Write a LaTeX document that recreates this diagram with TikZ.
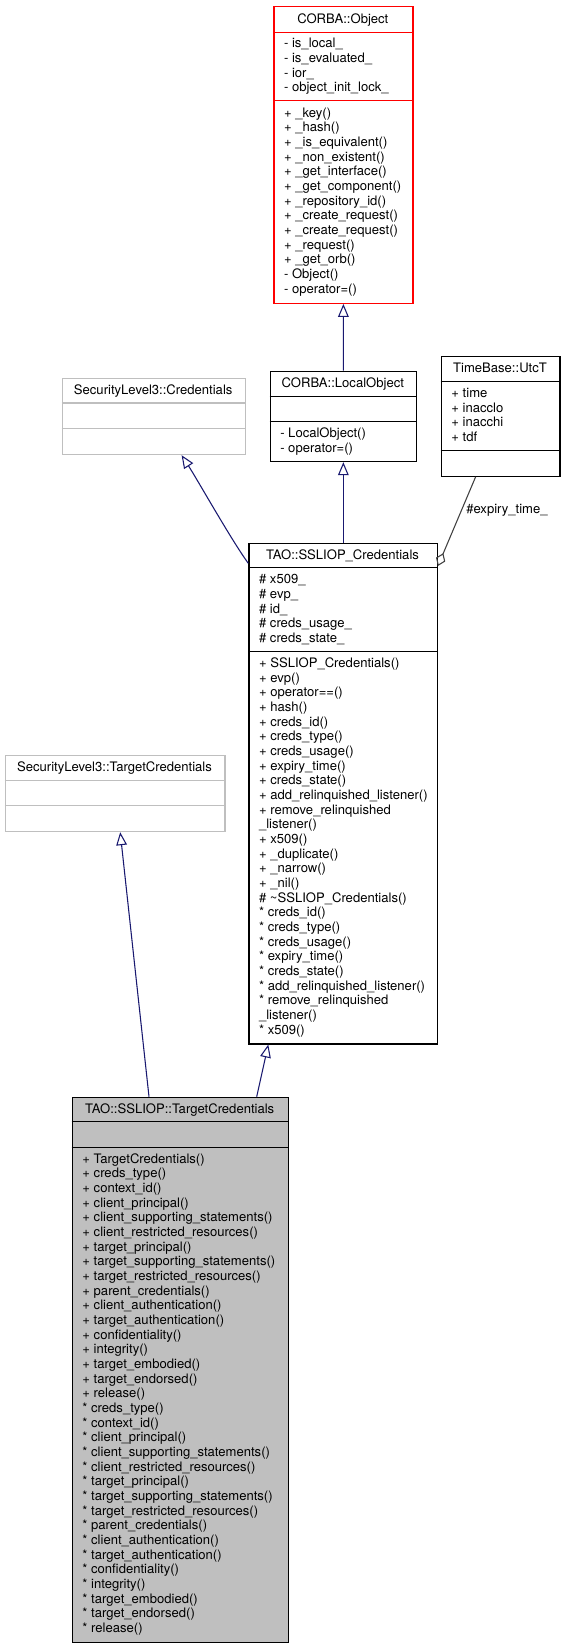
\documentclass[tikz,border=0pt]{standalone}
\usepackage{fontspec}
\setmainfont{TeX Gyre Heros}
\usetikzlibrary{arrows.meta,calc}
\definecolor{edgeblue}{HTML}{191970}
\definecolor{boxgray}{HTML}{BFBFBF}
\definecolor{aggray}{HTML}{404040}
\definecolor{boxred}{HTML}{FF0000}
% name, style, x1, y1, x2, y2, sep1, sep2, title
\newcommand\UMLclass[9]{%
  \pgfmathsetmacro\UMLbw{(#5-#3)*0.75}%
  \pgfmathsetmacro\UMLbh{(#6-#4)*0.75}%
  \node[#2, minimum width=\UMLbw pt, minimum height=\UMLbh pt, anchor=north west] (#1) at (#3,#4) {};
  \draw[#2] (#3,#7) -- (#5,#7);
  \draw[#2] (#3,#8) -- (#5,#8);
  \node[ttl] (#1t) at ({(#3+#5)/2},{(#4+#7)/2+4}) {#9};
}
% name, x1, top, bottom, text
\newcommand\UMLmembers[5]{%
  \node[txt] (#1) at ({#2+10.5},{(#3+#4)/2+0.5}) {\strut#5\strut};
}
\begin{document}
\begin{tikzpicture}[x=0.75pt,y=-0.75pt,
  txt/.style={inner sep=0pt, font=\fontsize{9.8}{11}\selectfont, align=left, anchor=west},
  ttl/.style={inner sep=0pt, font=\fontsize{9.8}{11}\selectfont, anchor=base},
  lbl/.style={inner sep=0pt, font=\fontsize{9.8}{11}\selectfont, anchor=west},
  blackbox/.style={draw=black, line width=0.9pt, inner sep=0pt},
  redbox/.style={draw=boxred, line width=0.9pt, inner sep=0pt},
  graybox/.style={draw=boxgray, line width=0.9pt, inner sep=0pt},
  filledbox/.style={draw=black, fill=boxgray, line width=0.9pt, inner sep=0pt},
  inh/.style={draw=edgeblue, line width=0.8pt, -{Triangle[open, length=9.75pt, width=8pt]}},
  agg/.style={draw=aggray, line width=0.8pt, -{Diamond[open, length=10.5pt, width=7.5pt]}}
]
\useasboundingbox (0,0) rectangle (564,1648);
\fill[white] (0,0) rectangle (564,1648);

% CORBA::Object
\UMLclass{obj}{redbox}{273.3}{6}{412.3}{302.7}{32.3}{100.7}{CORBA::Object}
\UMLmembers{obja}{273.3}{32.3}{100.7}{- is\_local\_\\- is\_evaluated\_\\- ior\_\\- object\_init\_lock\_}
\UMLmembers{objm}{273.3}{100.7}{302.7}{+ \_key()\\+ \_hash()\\+ \_is\_equivalent()\\+ \_non\_existent()\\+ \_get\_interface()\\+ \_get\_component()\\+ \_repository\_id()\\+ \_create\_request()\\+ \_create\_request()\\+ \_request()\\+ \_get\_orb()\\- Object()\\- operator=()}

% CORBA::LocalObject
\UMLclass{lo}{blackbox}{269.5}{370.7}{416}{461}{396.2}{421.5}{CORBA::LocalObject}
\UMLmembers{lom}{269.5}{421.5}{461}{- LocalObject()\\- operator=()}

% TimeBase::UtcT
\UMLclass{utct}{blackbox}{440.7}{356}{559.3}{475.7}{381.7}{450.7}{TimeBase::UtcT}
\UMLmembers{utcta}{440.7}{381.7}{450.7}{+ time\\+ inacclo\\+ inacchi\\+ tdf}

% SecurityLevel3::Credentials
\UMLclass{cred}{graybox}{61.7}{377.7}{244.7}{454}{403}{428.7}{SecurityLevel3::Credentials}

% TAO::SSLIOP_Credentials
\UMLclass{ssl}{blackbox}{248.3}{542.7}{436.7}{1043.3}{567.7}{651.7}{TAO::SSLIOP\_Credentials}
\UMLmembers{ssla}{248.3}{567.7}{651.7}{\# x509\_\\\# evp\_\\\# id\_\\\# creds\_usage\_\\\# creds\_state\_}
\UMLmembers{sslm}{248.3}{651.7}{1043.3}{+ SSLIOP\_Credentials()\\+ evp()\\+ operator==()\\+ hash()\\+ creds\_id()\\+ creds\_type()\\+ creds\_usage()\\+ expiry\_time()\\+ creds\_state()\\+ add\_relinquished\_listener()\\+ remove\_relinquished\\\_listener()\\+ x509()\\+ \_duplicate()\\+ \_narrow()\\+ \_nil()\\\# \textasciitilde SSLIOP\_Credentials()\\* creds\_id()\\* creds\_type()\\* creds\_usage()\\* expiry\_time()\\* creds\_state()\\* add\_relinquished\_listener()\\* remove\_relinquished\\\_listener()\\* x509()}

% SecurityLevel3::TargetCredentials
\UMLclass{stc}{graybox}{4.7}{755}{224.3}{831}{780.7}{805.7}{SecurityLevel3::TargetCredentials}

% TAO::SSLIOP::TargetCredentials
\UMLclass{tc}{filledbox}{71.7}{1096.7}{287.7}{1641.7}{1121.7}{1147.3}{TAO::SSLIOP::TargetCredentials}
\UMLmembers{tcm}{71.7}{1147.3}{1641.7}{+ TargetCredentials()\\+ creds\_type()\\+ context\_id()\\+ client\_principal()\\+ client\_supporting\_statements()\\+ client\_restricted\_resources()\\+ target\_principal()\\+ target\_supporting\_statements()\\+ target\_restricted\_resources()\\+ parent\_credentials()\\+ client\_authentication()\\+ target\_authentication()\\+ confidentiality()\\+ integrity()\\+ target\_embodied()\\+ target\_endorsed()\\+ release()\\* creds\_type()\\* context\_id()\\* client\_principal()\\* client\_supporting\_statements()\\* client\_restricted\_resources()\\* target\_principal()\\* target\_supporting\_statements()\\* target\_restricted\_resources()\\* parent\_credentials()\\* client\_authentication()\\* target\_authentication()\\* confidentiality()\\* integrity()\\* target\_embodied()\\* target\_endorsed()\\* release()}

% connectors
\draw[inh] (lo.north) -- (obj.south);
\draw[inh] (ssl.north -| lo.south) -- (lo.south);
\draw[inh] ($(ssl.north west)+(0,20.6)$) .. controls (231.3,540) and (197.8,480.3) .. ($(cred.south)+(27.8,0)$);
\draw[inh] ($(tc.north west)+(185,0)$) -- ($(ssl.south west)+(20,0)$);
\draw[inh] ($(tc.north west)+(77.3,0)$) -- ($(stc.south)+(5.1,0)$);
\draw[agg] ($(utct.south)+(-25,0)$) -- ($(ssl.north east)+(0,23.3)$);
\node[lbl] (exlbl) at (466,510) {\#expiry\_time\_};
\end{tikzpicture}
\end{document}
